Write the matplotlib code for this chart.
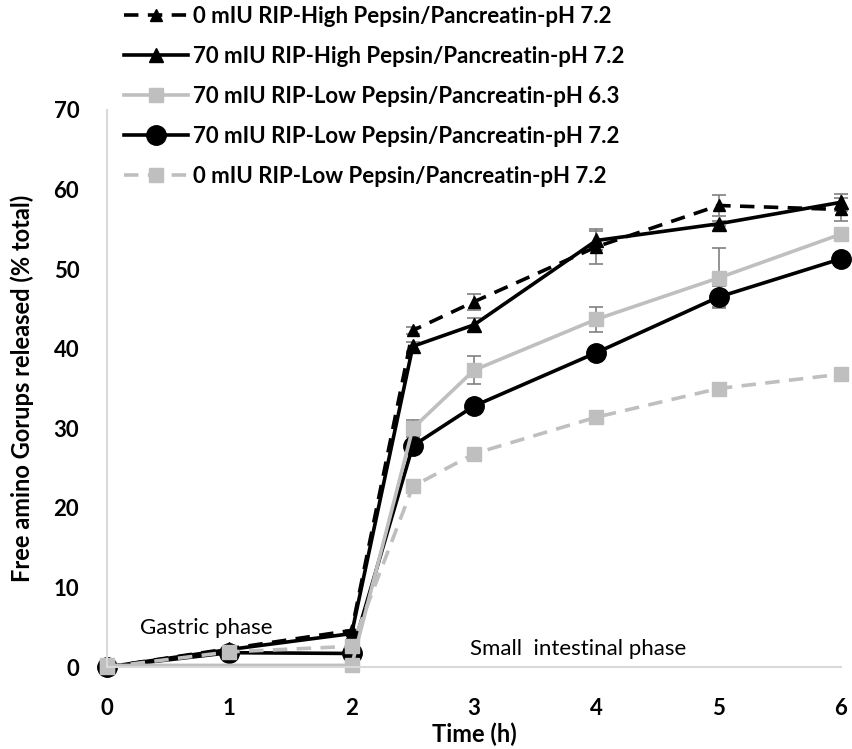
import numpy as np
import matplotlib
matplotlib.use("Agg")
import matplotlib.pyplot as plt

plt.rcParams['font.family'] = ['Lato', 'DejaVu Sans']

# time points (h)
time = [0, 1, 2, 2.5, 3, 4, 5, 6]
time_63 = [0, 2, 2.5, 3, 4, 5, 6]

labels = ["0 mIU RIP-High Pepsin/Pancreatin-pH 7.2",
          "70 mIU RIP-High Pepsin/Pancreatin-pH 7.2",
          "70 mIU RIP-Low Pepsin/Pancreatin-pH 6.3",
          "70 mIU RIP-Low Pepsin/Pancreatin-pH 7.2",
          "0 mIU RIP-Low Pepsin/Pancreatin-pH 7.2"]

high_0 = [0, 2.3, 4.6, 42.3, 45.9, 52.8, 58.0, 57.5]
high_0_err = [0, 0, 0, 0.4, 1.0, 2.2, 1.3, 1.5]
high_70 = [0, 2.2, 4.2, 40.3, 43.0, 53.6, 55.7, 58.4]
high_70_err = [0, 0, 0, 0.6, 0.8, 1.2, 0.3, 1.1]
low_70_63 = [0.2, 0.2, 30.0, 37.3, 43.7, 48.9, 54.4]
low_70_63_err = [0, 0, 1.1, 1.75, 1.6, 3.7, 0.4]
low_70 = [0, 1.8, 1.7, 27.8, 32.8, 39.5, 46.5, 51.3]
low_70_err = [0, 0, 0.3, 0.3, 0.3, 0.3, 1.4, 0.3]
low_0 = [0, 1.9, 2.6, 22.7, 26.8, 31.4, 35.0, 36.8]
low_0_err = [0, 0, 0, 0.3, 0.3, 0.3, 0.5, 0.3]

fig = plt.figure(figsize=(8.52, 7.49), dpi=100)
ax = fig.add_axes([107 / 852, 1 - 667 / 749, 734 / 852, 557 / 749])

gray = '#bfbfbf'
errc = '#808080'
dash = (0, (4, 2.6))

handles = {}


def draw(x, y, err, color, marker, ms, ls, label):
    c = ax.errorbar(x, y, yerr=err, color=color, marker=marker, markersize=ms,
                    linestyle=ls, linewidth=2.6, ecolor=errc, elinewidth=1.2,
                    capsize=5, capthick=1.2, clip_on=False)
    handles[label] = c[0]


draw(time, low_70, low_70_err, 'black', 'o', 14, '-', labels[3])
draw(time, high_70, high_70_err, 'black', '^', 10, '-', labels[1])
draw(time, high_0, high_0_err, 'black', '^', 9, dash, labels[0])
draw(time_63, low_70_63, low_70_63_err, gray, 's', 10, '-', labels[2])
draw(time, low_0, low_0_err, gray, 's', 10, dash, labels[4])

ax.set_xlim(0, 6)
ax.set_ylim(0, 70)
ax.set_xticks(range(0, 7))
ax.set_yticks(range(0, 71, 10))
ax.tick_params(axis='x', length=0, labelsize=16, pad=22)
ax.tick_params(axis='y', length=0, labelsize=16, pad=20)
for t in ax.get_xticklabels() + ax.get_yticklabels():
    t.set_fontweight('bold')
for side in ['top', 'right']:
    ax.spines[side].set_visible(False)
for side in ['left', 'bottom']:
    ax.spines[side].set_color('#d9d9d9')
    ax.spines[side].set_linewidth(1.5)

ax.set_xlabel("Time (h)", fontsize=17, fontweight='bold', labelpad=3)
ax.set_ylabel("Free amino Gorups released (% total)", fontsize=17,
              fontweight='bold', labelpad=14)

ax.text(0.27, 4.9, "Gastric phase", fontsize=16, va='center', ha='left')
ax.text(2.97, 2.2, "Small  intestinal phase", fontsize=16, va='center', ha='left')

leg = fig.legend([handles[s] for s in labels], labels,
                 loc='upper left', bbox_to_anchor=(124 / 852, 1 - 6 / 749),
                 frameon=False, fontsize=16, handlelength=2.9,
                 handletextpad=0.2, labelspacing=0.85, borderpad=0,
                 borderaxespad=0)
for t in leg.get_texts():
    t.set_fontweight('bold')

fig.savefig("out.png", dpi=100)
